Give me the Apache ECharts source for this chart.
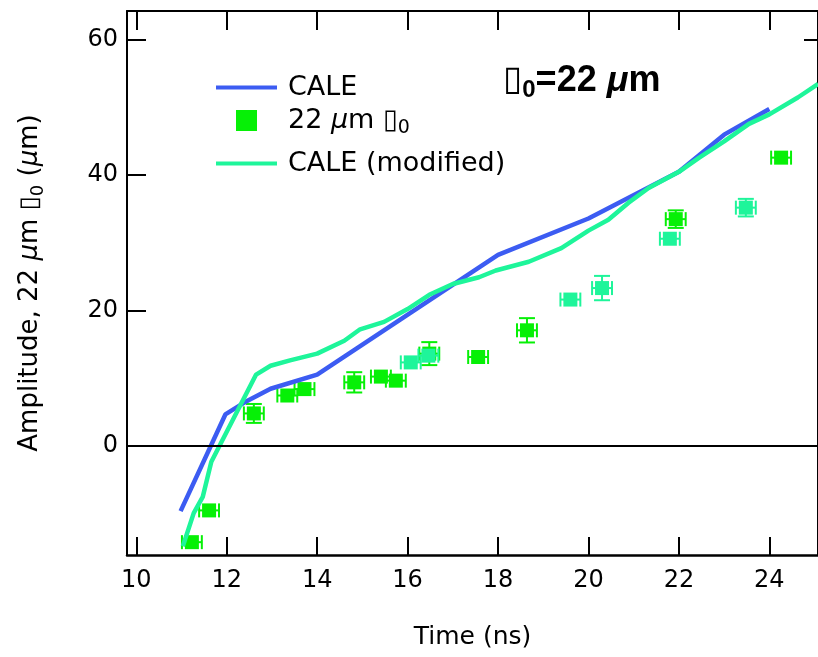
<!DOCTYPE html>
<html>
<head>
<meta charset="utf-8">
<script src="https://cdn.jsdelivr.net/npm/echarts@6/dist/echarts.min.js"></script>
<style>
  html, body { margin: 0; padding: 0; background: #fff; }
  #chart { width: 818px; height: 657px; }
</style>
</head>
<body>
<div id="chart"></div>
<script>
// CALE simulation (time in ns, amplitude in µm)
const caleTime = [10.98, 11.97, 12.45, 12.97, 14.0, 18.0, 20.0, 22.0, 23.0, 24.0];
const caleAmp  = [-9.7, 4.6, 6.6, 8.4, 10.5, 28.2, 33.6, 40.5, 46.0, 49.8];

// CALE (modified) simulation
const modTime = [11.03, 11.27, 11.47, 11.66, 12.65, 12.97, 13.4, 14.0, 14.6, 14.95, 15.48, 16.0, 16.48,
                 17.0, 17.58, 17.95, 18.68, 19.4, 20.0, 20.44, 20.88, 21.33, 22.0, 22.45, 23.0, 23.55,
                 24.0, 24.63, 25.08];
const modAmp  = [-14.9, -10.0, -7.6, -2.4, 10.5, 11.8, 12.6, 13.6, 15.5, 17.2, 18.3, 20.2, 22.3,
                 23.9, 24.9, 25.9, 27.2, 29.2, 31.8, 33.4, 35.9, 38.1, 40.5, 42.6, 45.0, 47.6,
                 49.0, 51.5, 53.5];

// Measured amplitudes, first shot set (green)
const shotATime = [11.23, 11.61, 12.60, 13.34, 13.72, 14.82, 15.41, 15.74, 16.48, 17.56, 18.64, 21.93, 24.26];
const shotAAmp  = [-14.3, -9.6, 4.75, 7.4, 8.35, 9.35, 10.2, 9.6, 13.6, 13.1, 17.05, 33.5, 42.6];
const shotATErr = [0.22, 0.22, 0.22, 0.22, 0.22, 0.22, 0.22, 0.22, 0.22, 0.22, 0.22, 0.22, 0.22];
const shotAAErr = [0, 0, 1.4, 0, 0, 1.5, 0, 0, 1.7, 0, 1.8, 1.3, 0];

// Measured amplitudes, second shot set (aquamarine)
const shotBTime = [16.07, 16.46, 19.60, 20.30, 21.80, 23.48];
const shotBAmp  = [12.3, 13.3, 21.6, 23.3, 30.6, 35.2];
const shotBTErr = [0.22, 0.22, 0.22, 0.22, 0.22, 0.22];
const shotBAErr = [0, 0, 0, 1.8, 0, 1.3];

const xTicks = [10, 12, 14, 16, 18, 20, 22, 24];
const yTicks = [0, 20, 40, 60];

const BLUE = '#3c5cf2';
const AQUA = '#1ef59a';
const GREEN = '#06f006';
const FONT = 'DejaVu Sans';

const zip = (a, b) => a.map((v, i) => [v, b[i]]);
const zip4 = (a, b, c, d) => a.map((v, i) => [v, b[i], c[i], d[i]]);

function lambdaRich(size) {
  return {
    a: { fontSize: size, fontFamily: FONT, color: '#000' },
    i: { fontSize: size, fontFamily: FONT, fontStyle: 'italic', color: '#000' },
    s: { fontSize: Math.round(size * 0.7), fontFamily: FONT, color: '#000', padding: [Math.round(size * 0.58), 0, 0, 0] }
  };
}

// Square marker with time and amplitude error bars
function renderShot(params, api) {
  const t = api.value(0), a = api.value(1), et = api.value(2), ea = api.value(3);
  const c = api.coord([t, a]);
  const l = api.coord([t - et, a]);
  const r = api.coord([t + et, a]);
  const color = api.visual('color');
  const half = 7;
  const stroke = { stroke: color, lineWidth: 2 };
  const kids = [
    { type: 'line', shape: { x1: l[0], y1: c[1], x2: r[0], y2: c[1] }, style: stroke },
    { type: 'line', shape: { x1: l[0], y1: c[1] - half, x2: l[0], y2: c[1] + half }, style: stroke },
    { type: 'line', shape: { x1: r[0], y1: c[1] - half, x2: r[0], y2: c[1] + half }, style: stroke }
  ];
  if (ea > 0) {
    const tp = api.coord([t, a + ea]);
    const bt = api.coord([t, a - ea]);
    kids.push(
      { type: 'line', shape: { x1: c[0], y1: tp[1], x2: c[0], y2: bt[1] }, style: stroke },
      { type: 'line', shape: { x1: c[0] - 8, y1: tp[1], x2: c[0] + 8, y2: tp[1] }, style: stroke },
      { type: 'line', shape: { x1: c[0] - 8, y1: bt[1], x2: c[0] + 8, y2: bt[1] }, style: stroke }
    );
  }
  kids.push({ type: 'rect', shape: { x: c[0] - half, y: c[1] - half, width: 2 * half, height: 2 * half }, style: { fill: color } });
  return { type: 'group', children: kids };
}

const chart = echarts.init(document.getElementById('chart'), null, { renderer: 'canvas' });

const axisCommon = {
  type: 'value',
  splitLine: { show: false },
  axisLine: { show: true, onZero: false, lineStyle: { color: '#000', width: 2 } }
};
const X_MIN = 9.795, X_MAX = 25.076;

chart.setOption({
  animation: false,
  backgroundColor: '#fff',
  grid: { left: 127, top: 11, right: -2, bottom: 102, containLabel: false },
  xAxis: [
    Object.assign({}, axisCommon, {
      position: 'bottom', min: X_MIN, max: X_MAX,
      axisLine: { show: true, onZero: false, lineStyle: { color: '#000', width: 2.5 } },
      axisTick: { show: true, inside: true, length: 18, customValues: xTicks, lineStyle: { color: '#000', width: 2 } },
      axisLabel: { customValues: xTicks, fontSize: 24, fontFamily: FONT, color: '#000', margin: 14 },
      name: 'Time (ns)', nameLocation: 'middle', nameGap: 70,
      nameTextStyle: { fontSize: 25, fontFamily: FONT, color: '#000' }
    }),
    Object.assign({}, axisCommon, {
      position: 'top', min: X_MIN, max: X_MAX,
      axisTick: { show: true, inside: true, length: 19, customValues: xTicks, lineStyle: { color: '#000', width: 2 } },
      axisLabel: { show: false }
    })
  ],
  yAxis: [
    Object.assign({}, axisCommon, {
      position: 'left', min: -16.2, max: 64.3,
      axisTick: { show: true, inside: true, length: 19, customValues: yTicks, lineStyle: { color: '#000', width: 2 } },
      axisLabel: { customValues: yTicks, fontSize: 24, fontFamily: FONT, color: '#000', margin: 9 },
      name: '{a|Amplitude, 22 }{i|μ}{a|m ▯}{s|0}{a| (}{i|μ}{a|m)}',
      nameLocation: 'middle', nameRotate: 90, nameGap: 80,
      nameTextStyle: { rich: lambdaRich(26) }
    }),
    Object.assign({}, axisCommon, {
      position: 'right', min: -16.2, max: 64.3,
      axisTick: { show: true, inside: true, length: 14, customValues: [60], lineStyle: { color: '#000', width: 2 } },
      axisLabel: { show: false }
    })
  ],
  legend: [
    {
      data: [{ name: 'CALE', icon: 'rect' }],
      left: 211, top: 69, itemWidth: 61, itemHeight: 4,
      textStyle: { fontSize: 27, fontFamily: FONT, color: '#000', padding: [0, 0, 0, 6] }
    },
    {
      data: [{ name: '22 μm ▯₀', icon: 'rect' }],
      left: 231, top: 102, itemWidth: 21, itemHeight: 21,
      formatter: () => '{a|22 }{i|μ}{a|m ▯}{s|0}',
      textStyle: { fontSize: 27, fontFamily: FONT, color: '#000', padding: [0, 0, 0, 26], rich: lambdaRich(27) }
    },
    {
      data: [{ name: 'CALE (modified)', icon: 'rect' }],
      left: 211, top: 145, itemWidth: 61, itemHeight: 4,
      textStyle: { fontSize: 27, fontFamily: FONT, color: '#000', padding: [0, 0, 0, 6] }
    }
  ],
  graphic: [{
    type: 'text', left: 503, top: 63,
    style: {
      text: '{b|▯}{s|0}{t|=22 }{i|μ}{t|m}',
      rich: {
        b: { fontSize: 35, fontFamily: FONT, fill: '#000' },
        s: { fontSize: 24, fontFamily: 'Liberation Sans', fontWeight: 'bold', fill: '#000', padding: [18, 0, 0, 0] },
        t: { fontSize: 36, fontFamily: 'Liberation Sans', fontWeight: 'bold', fill: '#000' },
        i: { fontSize: 36, fontFamily: 'Liberation Sans', fontWeight: 'bold', fontStyle: 'italic', fill: '#000' }
      }
    }
  }],
  series: [
    {
      name: '22 μm ▯₀', type: 'custom', z: 1,
      itemStyle: { color: GREEN },
      data: zip4(shotATime, shotAAmp, shotATErr, shotAAErr),
      renderItem: renderShot,
      encode: { x: 0, y: 1 },
      markLine: {
        silent: true, symbol: 'none', label: { show: false },
        lineStyle: { color: '#000', width: 2, type: 'solid' },
        data: [{ yAxis: 0 }]
      }
    },
    {
      name: '22 μm ▯₀', type: 'custom', z: 1,
      itemStyle: { color: AQUA },
      data: zip4(shotBTime, shotBAmp, shotBTErr, shotBAErr),
      renderItem: renderShot,
      encode: { x: 0, y: 1 }
    },
    {
      name: 'CALE', type: 'line', z: 3, showSymbol: false, symbol: 'none',
      itemStyle: { color: BLUE },
      lineStyle: { color: BLUE, width: 4.5 },
      data: zip(caleTime, caleAmp)
    },
    {
      name: 'CALE (modified)', type: 'line', z: 3, showSymbol: false, symbol: 'none',
      itemStyle: { color: AQUA },
      lineStyle: { color: AQUA, width: 4.5 },
      data: zip(modTime, modAmp)
    }
  ]
});
</script>
</body>
</html>
